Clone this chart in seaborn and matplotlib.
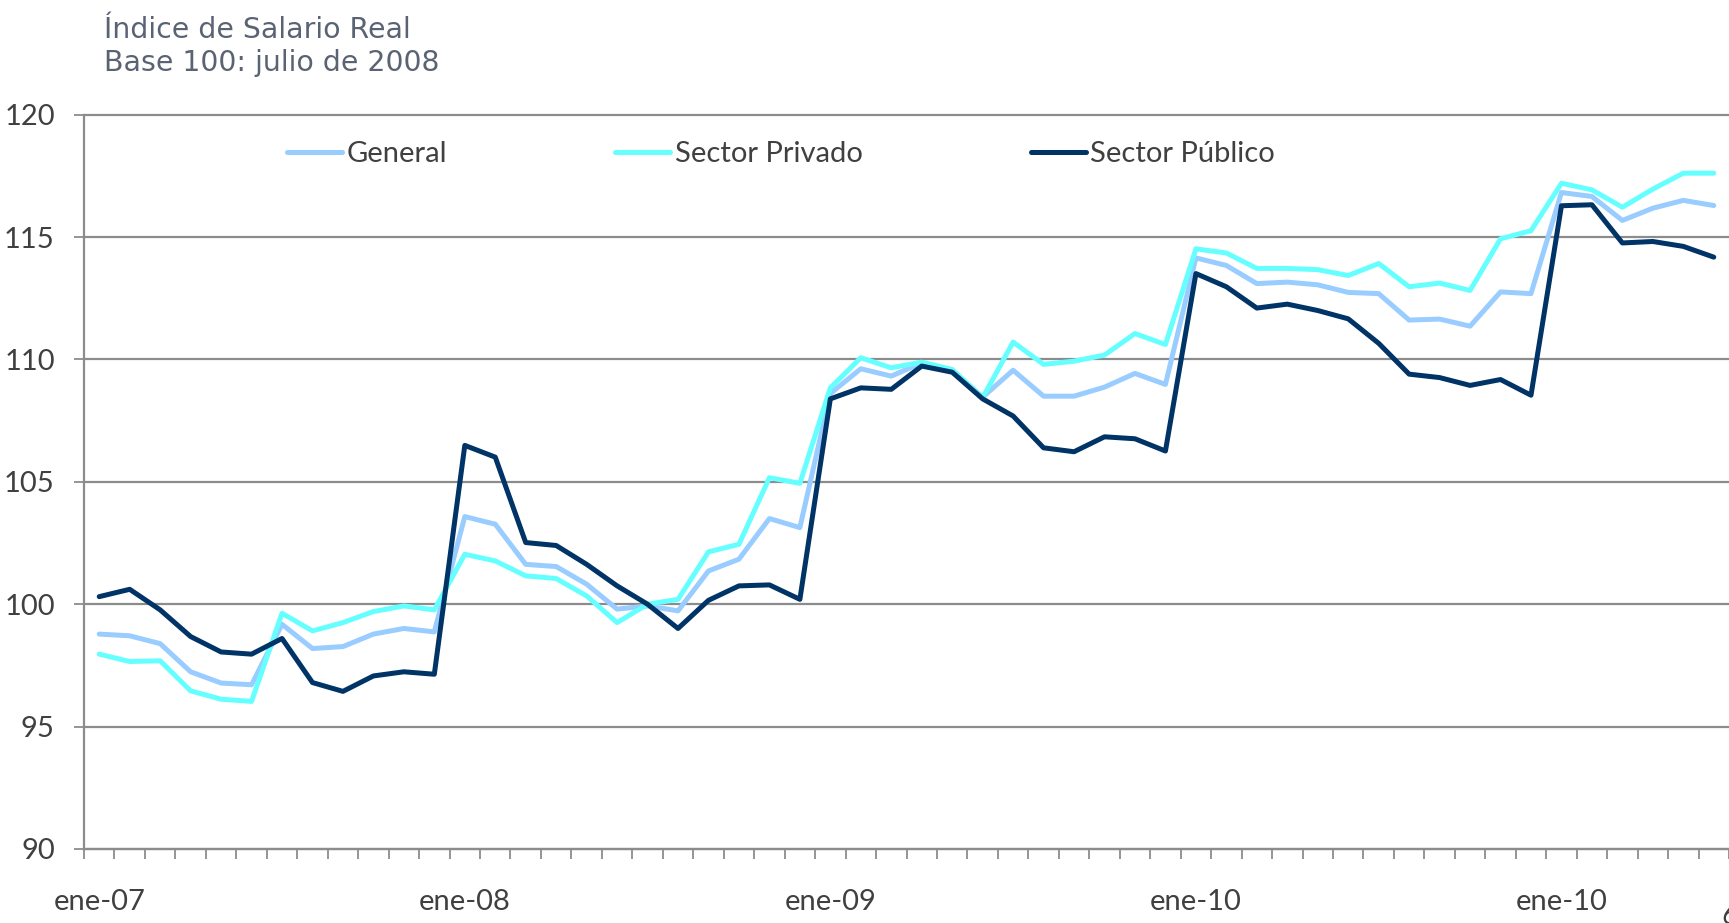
import numpy as np
import pandas as pd
import matplotlib
matplotlib.use("Agg")
import matplotlib.pyplot as plt
import seaborn as sns
from matplotlib.ticker import FixedLocator

# ---- data (monthly index, ene-07 .. jun-11) ----
series_names = ["General", "Sector Privado", "Sector Público"]

general = [98.78, 98.71, 98.39, 97.24, 96.78, 96.71, 99.18, 98.19, 98.27, 98.78, 99.01, 98.87,
           103.58, 103.27, 101.63, 101.54, 100.82, 99.80, 99.93, 99.73, 101.36, 101.84, 103.50, 103.13,
           108.61, 109.62, 109.32, 109.86, 109.55, 108.46, 109.56, 108.50, 108.50, 108.87, 109.43, 108.98,
           114.15, 113.84, 113.10, 113.16, 113.05, 112.74, 112.69, 111.61, 111.65, 111.36, 112.76, 112.69,
           116.82, 116.66, 115.68, 116.18, 116.50, 116.29]

privado = [97.96, 97.66, 97.69, 96.46, 96.12, 96.03, 99.63, 98.91, 99.25, 99.70, 99.93, 99.77,
           102.04, 101.77, 101.16, 101.05, 100.34, 99.25, 100.00, 100.20, 102.14, 102.45, 105.17, 104.94,
           108.84, 110.07, 109.66, 109.89, 109.59, 108.44, 110.71, 109.80, 109.93, 110.18, 111.06, 110.61,
           114.52, 114.35, 113.72, 113.72, 113.67, 113.43, 113.92, 112.97, 113.12, 112.82, 114.93, 115.26,
           117.20, 116.93, 116.22, 116.96, 117.61, 117.61]

publico = [100.31, 100.61, 99.77, 98.68, 98.05, 97.96, 98.60, 96.80, 96.44, 97.07, 97.24, 97.14,
           106.49, 106.01, 102.52, 102.40, 101.63, 100.75, 100.00, 99.01, 100.16, 100.75, 100.79, 100.20,
           108.39, 108.84, 108.78, 109.73, 109.48, 108.39, 107.69, 106.39, 106.23, 106.84, 106.76, 106.26,
           113.51, 112.97, 112.10, 112.26, 112.00, 111.66, 110.66, 109.40, 109.26, 108.94, 109.18, 108.54,
           116.28, 116.32, 114.76, 114.82, 114.62, 114.18]

tick_positions = [0, 12, 24, 36, 48]
tick_labels = ["ene-07", "ene-08", "ene-09", "ene-10", "ene-10"]
y_ticks = [90, 95, 100, 105, 110, 115, 120]

colors = {"General": "#99CCFF", "Sector Privado": "#66FFFF", "Sector Público": "#003366"}

n = len(general)
df = pd.DataFrame({
    "mes": np.tile(np.arange(n), 3),
    "valor": general + privado + publico,
    "serie": np.repeat(series_names, n),
})

# ---- figure ----
sns.set_theme(style="white")
plt.rcParams["font.family"] = ["Lato", "DejaVu Sans"]

W, H = 1729, 923
fig = plt.figure(figsize=(W / 100, H / 100), dpi=100)
ax = fig.add_axes([84 / W, (H - 849) / H, (W - 84) / W, (849 - 114.7) / H])

LW = 3.6
sns.lineplot(data=df, x="mes", y="valor", hue="serie", hue_order=series_names,
             palette=colors, linewidth=LW, ax=ax, legend=True)
for ln in ax.lines:
    ln.set_solid_capstyle("round")
    ln.set_solid_joinstyle("round")

ax.set_xlim(-0.5, n - 0.5)
ax.set_ylim(90, 120)
ax.set_xlabel("")
ax.set_ylabel("")

grid_c = "#8c8c8c"
ax.set_yticks(y_ticks)
ax.yaxis.grid(True, color=grid_c, linewidth=1.6)
ax.xaxis.grid(False)
ax.set_axisbelow(True)
for gl in ax.get_ygridlines():
    gl.set_clip_on(False)

for s in ["top", "right"]:
    ax.spines[s].set_visible(False)
for s in ["left", "bottom"]:
    ax.spines[s].set_color(grid_c)
    ax.spines[s].set_linewidth(1.6)

FS = 21
ax.tick_params(axis="y", which="major", left=True, direction="out", length=7, width=1.3,
               color=grid_c, pad=14, labelsize=FS, labelcolor="#404040")

ax.set_xticks(tick_positions)
ax.set_xticklabels(tick_labels)
ax.xaxis.set_minor_locator(FixedLocator(np.arange(-0.5, n, 1.0)))
ax.tick_params(axis="x", which="major", bottom=True, length=0, pad=29,
               labelsize=FS, labelcolor="#404040")
ax.tick_params(axis="x", which="minor", bottom=True, direction="out", length=7,
               width=1.3, color=grid_c)

handles, labels = ax.get_legend_handles_labels()
leg = ax.legend(handles, labels, loc="center left", bbox_to_anchor=(0.1235, 0.9465),
                ncol=3, frameon=False, fontsize=FS, handlelength=1.89, handletextpad=0.15,
                columnspacing=5.76, borderpad=0, borderaxespad=0, labelcolor="#404040")
for ln in leg.get_lines():
    ln.set_linewidth(LW)
    ln.set_solid_capstyle("round")

title_c = "#5a6374"
fig.text(104 / W, 1 - 38 / H, "Índice de Salario Real", family="DejaVu Sans",
         fontsize=20.4, color=title_c, va="baseline", ha="left")
fig.text(104 / W, 1 - 71 / H, "Base 100: julio de 2008", family="DejaVu Sans",
         fontsize=20.4, color=title_c, va="baseline", ha="left")

fig.text(1721 / W, 1 - 903 / H, "6", style="italic", fontsize=20, color="#404040",
         va="top", ha="left")

fig.savefig("out.png", dpi=100)
